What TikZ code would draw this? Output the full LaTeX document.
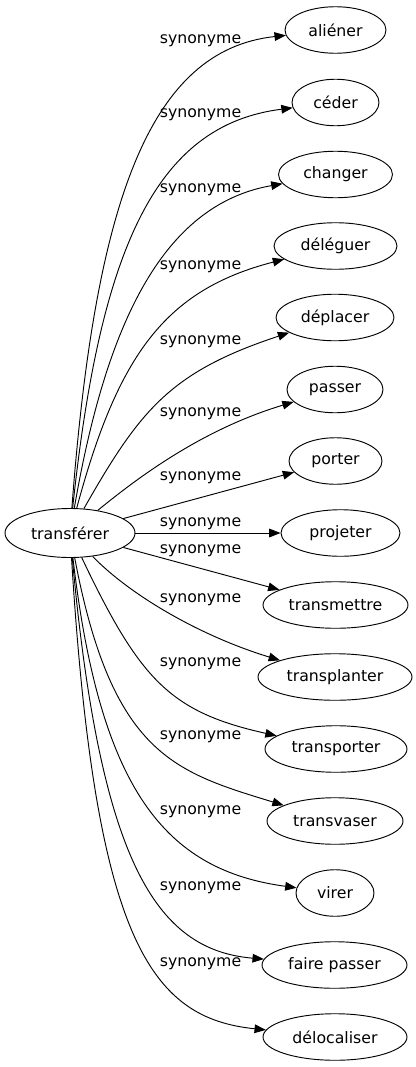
\documentclass[tikz,border=0pt]{standalone}
\usepackage{fontspec}
\setmainfont{DejaVu Sans}
\usetikzlibrary{arrows.meta,shapes.geometric}
\begin{document}
\begin{tikzpicture}[x=0.75pt,y=-0.75pt,
  mot/.style={draw,ellipse,line width=0.7pt,inner sep=0pt,minimum height=34.9pt,font=\fontsize{11.8}{14}\selectfont},
  syn/.style={inner sep=0pt,font=\fontsize{11.8}{14}\selectfont},
  lien/.style={line width=0.7pt,-{Triangle[length=8.5pt,width=6.5pt]}}]
\useasboundingbox (0,0) rectangle (416,1067);
\node[mot,minimum width=97.5pt,minimum height=36.75pt] (tr) at (70,533) {transférer};
\node[mot,minimum width=75.75pt] (aliener) at (335.5,30) {aliéner};
\node[mot,minimum width=65.25pt] (ceder) at (335.5,102.5) {céder};
\node[mot,minimum width=85.5pt] (changer) at (335.5,174.5) {changer};
\node[mot,minimum width=92.25pt] (deleguer) at (335.5,246) {déléguer};
\node[mot,minimum width=88.5pt] (deplacer) at (335,317.5) {déplacer};
\node[mot,minimum width=72pt] (passer) at (335,389.5) {passer};
\node[mot,minimum width=69.75pt] (porter) at (335.5,461) {porter};
\node[mot,minimum width=89.25pt] (projeter) at (340.5,533) {projeter};
\node[mot,minimum width=108.75pt] (transmettre) at (335.5,605) {transmettre};
\node[mot,minimum width=115.5pt] (transplanter) at (335,677) {transplanter};
\node[mot,minimum width=106.5pt] (transporter) at (336,749) {transporter};
\node[mot,minimum width=102pt] (transvaser) at (335,821) {transvaser};
\node[mot,minimum width=58.5pt] (virer) at (335,893) {virer};
\node[mot,minimum width=108.75pt] (fairepasser) at (334.5,965) {faire passer};
\node[mot,minimum width=108pt] (delocaliser) at (335,1037) {délocaliser};
\node[syn] (s1) at (200.5,41) {synonyme};
\node[syn] (s2) at (200.5,115) {synonyme};
\node[syn] (s3) at (200.5,190) {synonyme};
\node[syn] (s4) at (200.5,267) {synonyme};
\node[syn] (s5) at (200.5,342) {synonyme};
\node[syn] (s6) at (200.5,414) {synonyme};
\node[syn] (s7) at (200.5,478) {synonyme};
\node[syn] (s8) at (200.5,524) {synonyme};
\node[syn] (s9) at (200.5,551) {synonyme};
\node[syn] (s10) at (200.5,600) {synonyme};
\node[syn] (s11) at (200.5,664) {synonyme};
\node[syn] (s12) at (200.5,737) {synonyme};
\node[syn] (s13) at (200.5,812) {synonyme};
\node[syn] (s14) at (200.5,888) {synonyme};
\node[syn] (s15) at (200.5,964) {synonyme};
\draw[lien] (tr) .. controls (95,200) and (150,50) .. (aliener);
\draw[lien] (tr) .. controls (100,250) and (155,125) .. (ceder);
\draw[lien] (tr) .. controls (105,330) and (160,205) .. (changer);
\draw[lien] (tr) .. controls (118,355) and (165,290) .. (deleguer);
\draw[lien] (tr) .. controls (140,410) and (170,372) .. (deplacer);
\draw[lien] (tr) .. controls (135,480) and (200,430) .. (passer);
\draw[lien] (tr) -- (porter);
\draw[lien] (tr) -- (projeter);
\draw[lien] (tr) -- (transmettre);
\draw[lien] (tr) .. controls (130,595) and (200,636) .. (transplanter);
\draw[lien] (tr) .. controls (140,680) and (170,712) .. (transporter);
\draw[lien] (tr) .. controls (112,755) and (175,772) .. (transvaser);
\draw[lien] (tr) .. controls (100,790) and (165,870) .. (virer);
\draw[lien] (tr) .. controls (100,860) and (155,950) .. (fairepasser);
\draw[lien] (tr) .. controls (95,940) and (150,1018) .. (delocaliser);
\end{tikzpicture}
\end{document}
